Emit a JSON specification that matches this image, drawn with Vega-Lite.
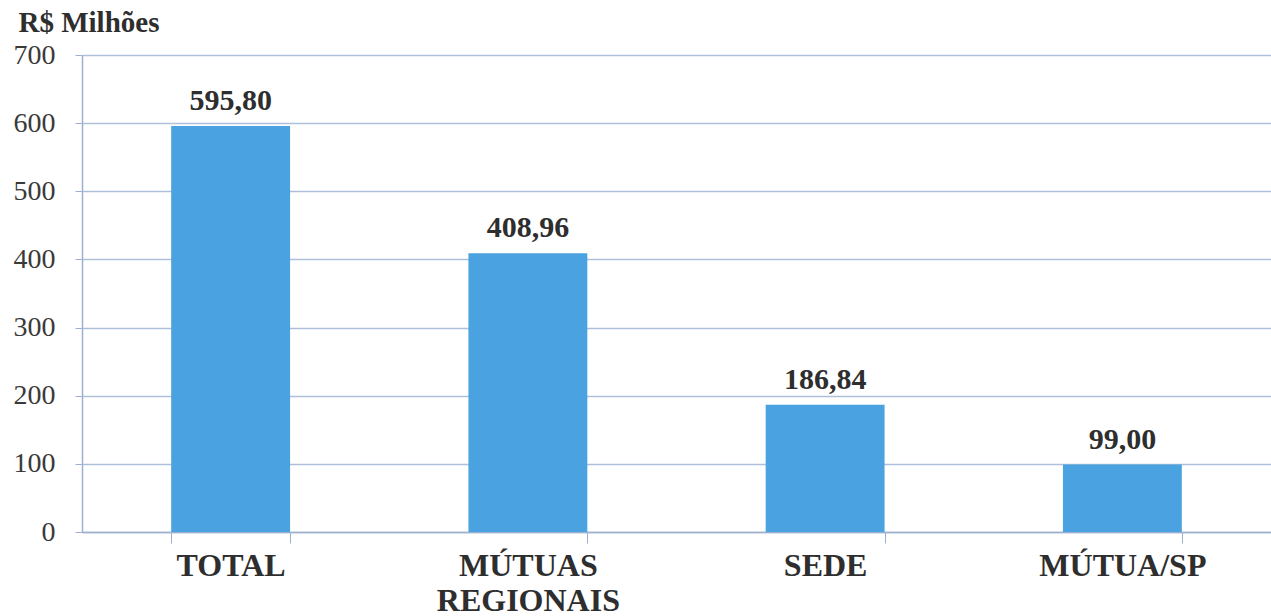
{
  "$schema": "https://vega.github.io/schema/vega-lite/v6.json",
  "autosize": "none",
  "width": 1189,
  "height": 477,
  "padding": {"left": 82, "top": 55, "right": 0, "bottom": 84},
  "background": "#ffffff",
  "config": {
    "view": {"stroke": null},
    "font": "Liberation Serif",
    "locale": {"number": {"decimal": ",", "thousands": ".", "grouping": [3], "currency": ["R$ ", ""]}}
  },
  "data": {
    "values": [
      {"categoria": "TOTAL", "valor": 595.80},
      {"categoria": "MÚTUAS REGIONAIS", "valor": 408.96},
      {"categoria": "SEDE", "valor": 186.84},
      {"categoria": "MÚTUA/SP", "valor": 99.00}
    ]
  },
  "encoding": {
    "x": {
      "field": "categoria",
      "type": "nominal",
      "sort": null,
      "scale": {"paddingInner": 0.6, "paddingOuter": 0.3},
      "axis": {
        "title": null,
        "labelAngle": 0,
        "labelFont": "Liberation Serif",
        "labelFontSize": 32,
        "labelFontWeight": "bold",
        "labelColor": "#2e2e2e",
        "labelLineHeight": 35,
        "labelPadding": 7,
        "labelLimit": 0,
        "labelBound": false,
        "labelOverlap": false,
        "labelExpr": "datum.label == 'MÚTUAS REGIONAIS' ? ['MÚTUAS', 'REGIONAIS'] : datum.label",
        "tickBand": "extent",
        "tickSize": 11,
        "tickColor": "#9fb0cf",
        "domainColor": "#9fb0cf",
        "domainWidth": 1.5,
        "grid": false
      }
    },
    "y": {
      "field": "valor",
      "type": "quantitative",
      "scale": {"domain": [0, 700], "nice": false},
      "axis": {
        "values": [0, 100, 200, 300, 400, 500, 600, 700],
        "title": "R$ Milhões",
        "titleAngle": 0,
        "titleAlign": "left",
        "titleBaseline": "alphabetic",
        "titleX": -64,
        "titleY": -24,
        "titleFont": "Liberation Serif",
        "titleFontSize": 29,
        "titleFontWeight": "bold",
        "titleColor": "#2e2e2e",
        "labelFont": "Liberation Serif",
        "labelFontSize": 28,
        "labelColor": "#3a3a3a",
        "labelPadding": 20,
        "tickSize": 7,
        "tickColor": "#9fb0cf",
        "domainColor": "#9fb0cf",
        "domainWidth": 1.5,
        "grid": true,
        "gridColor": "#aebfdc",
        "gridWidth": 1.5
      }
    }
  },
  "layer": [
    {"mark": {"type": "bar", "color": "#4aa3e0"}},
    {
      "mark": {"type": "text", "dy": -16, "baseline": "alphabetic", "font": "Liberation Serif", "fontSize": 30, "fontWeight": "bold", "color": "#2e2e2e"},
      "encoding": {"text": {"field": "valor", "type": "quantitative", "format": ".2f"}}
    }
  ]
}
